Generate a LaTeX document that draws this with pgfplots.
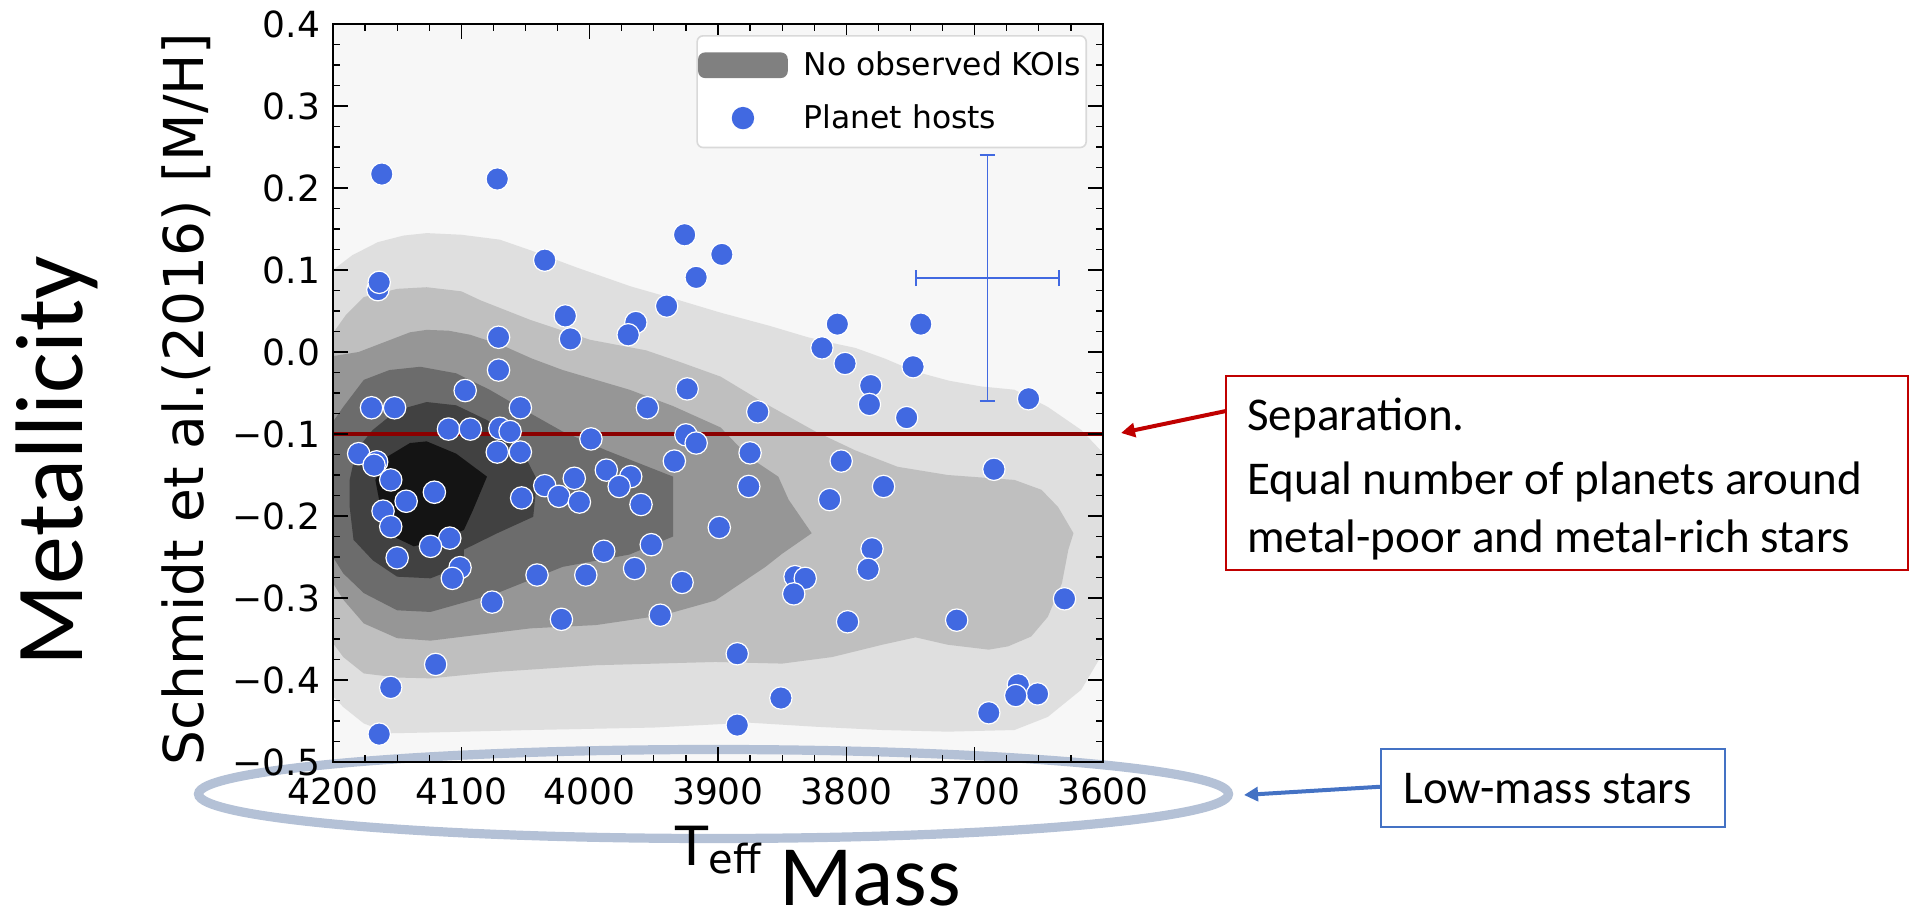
\documentclass[border=0pt]{standalone}
\usepackage{pgfplots}
\usepackage{pgfplotstable}
\pgfplotsset{compat=1.18}
\usepackage{fontspec}
\setmainfont{DejaVu Sans}
\newfontfamily\calibri{Carlito}
\usetikzlibrary{arrows.meta}
\definecolor{royal}{HTML}{4169E1}
\definecolor{darkred}{HTML}{8B0000}
\definecolor{boxred}{HTML}{C00000}
\definecolor{boxblue}{HTML}{4472C4}
\definecolor{ellcol}{HTML}{B4C1D6}
\definecolor{bg}{HTML}{F7F7F7}
\definecolor{lvA}{HTML}{DFDFDF}
\definecolor{lvB}{HTML}{BFBFBF}
\definecolor{lvC}{HTML}{969696}
\definecolor{lvD}{HTML}{6C6C6C}
\definecolor{lvE}{HTML}{414141}
\definecolor{lvF}{HTML}{141414}
\definecolor{kgray}{HTML}{808080}

\pgfplotstableread{
T M
4162 0.217
4072 0.211
4035 0.112
3926 0.143
3897 0.119
3917 0.091
4165 0.076
4164 0.085
4019 0.044
3940 0.056
3964 0.036
3970 0.021
4071 0.018
4015 0.016
3807 0.034
3742 0.034
3819 0.005
3801 -0.014
3748 -0.018
3781 -0.041
3782 -0.064
3753 -0.080
3658 -0.057
3869 -0.073
4071 -0.022
4097 -0.047
3924 -0.045
4170 -0.068
4152 -0.068
4054 -0.068
3955 -0.068
4110 -0.094
4093 -0.094
4070 -0.093
4062 -0.097
3999 -0.106
3925 -0.101
3917 -0.111
4180 -0.124
4166 -0.134
4168 -0.138
4072 -0.122
4054 -0.122
3934 -0.133
4155 -0.156
3987 -0.144
3968 -0.152
4012 -0.154
3977 -0.164
4035 -0.163
4121 -0.171
4143 -0.182
4024 -0.176
4008 -0.183
3960 -0.186
4053 -0.178
4161 -0.194
4155 -0.213
3899 -0.214
4109 -0.227
4124 -0.237
3952 -0.235
3989 -0.243
4150 -0.251
4101 -0.263
4107 -0.276
3965 -0.264
4041 -0.272
4003 -0.272
3928 -0.281
4076 -0.305
4022 -0.326
3945 -0.321
4120 -0.381
4155 -0.409
4164 -0.466
3780 -0.240
3783 -0.265
3840 -0.274
3832 -0.276
3841 -0.295
3799 -0.329
3714 -0.327
3630 -0.301
3885 -0.368
3851 -0.422
3885 -0.455
3666 -0.406
3651 -0.417
3668 -0.419
3689 -0.440
3875 -0.123
3804 -0.133
3685 -0.143
3876 -0.164
3771 -0.164
3813 -0.180
}\hosts

\begin{document}
\begin{tikzpicture}[x=0.5pt,y=0.5pt]
\useasboundingbox (0,0) rectangle (1914,919);
\fill[bg] (333,157) rectangle (1103,895);
\draw[ellcol, line width=4.6pt] (713.5,125) ellipse [x radius=257.5pt, y radius=22.25pt];
\begin{axis}[
  at={(166.5pt,78.5pt)}, anchor=south west,
  scale only axis, width=385pt, height=369pt,
  xmin=3600, xmax=4200, ymin=-0.5, ymax=0.4,
  x dir=reverse,
  axis on top,
  xtick={3600,3700,3800,3900,4000,4100,4200},
  xticklabels={3600,3700,3800,3900,4000,4100,4200},
  ytick={-0.5,-0.4,-0.3,-0.2,-0.1,0,0.1,0.2,0.3,0.4},
  yticklabels={−0.5,−0.4,−0.3,−0.2,−0.1,0.0,0.1,0.2,0.3,0.4},
  minor x tick num=3, minor y tick num=3,
  tick align=inside,
  major tick length=7.5pt, minor tick length=3.7pt,
  every tick/.style={black, line width=0.6pt},
  axis line style={black, line width=1pt},
  tick label style={font=\fontsize{18}{21}\selectfont},
  yticklabel style={xshift=-3pt},
  xticklabel style={yshift=-4.5pt},
  every axis y label/.style={at={(axis description cs:-0.1688,0.4919)}, rotate=90, anchor=base, inner sep=0pt, font=\fontsize{27.5}{32}\selectfont},
  every axis x label/.style={at={(axis description cs:0.5,-0.1396)}, anchor=base, inner sep=0pt, font=\fontsize{27}{32}\selectfont},
  ylabel={Schmidt et al.(2016) [M/H]},
  xlabel={T\raisebox{-4pt}{\fontsize{20}{22}\selectfont eff}},
  legend style={at={(axis description cs:1,1)}, anchor=north east, xshift=-8pt, yshift=-5.5pt,
    draw=black!15, line width=0.8pt, fill=white, rounded corners=3pt,
    font=\fontsize{15.7}{19}\selectfont, inner xsep=0.5pt, inner ysep=6pt, row sep=9pt,
    /tikz/every odd column/.append style={column sep=6pt}},
  legend cell align=left,
]
% filled density contours
\addplot[fill=lvA, draw=none, forget plot] coordinates {
(4210,0.100) (4200,0.100) (4185,0.118) (4165,0.134) (4145,0.142) (4127,0.145) (4100,0.143) (4070,0.137) (4046,0.124) (4010,0.103) (3968,0.080) (3930,0.063) (3898,0.048) (3860,0.032) (3830,0.018) (3811,0.011) (3793,0.005) (3770,-0.008) (3746,-0.024) (3720,-0.035) (3695,-0.042) (3669,-0.046) (3643,-0.067) (3617,-0.095) (3600,-0.123) (3590,-0.123) (3590,-0.367) (3600,-0.367) (3617,-0.412) (3643,-0.445) (3669,-0.461) (3721,-0.463) (3772,-0.461) (3824,-0.457) (3876,-0.452) (3950,-0.458) (4046,-0.461) (4124,-0.464) (4156,-0.465) (4176,-0.453) (4192,-0.433) (4200,-0.420) (4210,-0.420)
} -- cycle;
\addplot[fill=lvB, draw=none, forget plot] coordinates {
(4210,0.023) (4200,0.023) (4190,0.045) (4176,0.067) (4150,0.077) (4127,0.079) (4100,0.074) (4085,0.063) (4046,0.039) (4000,0.015) (3956,0.002) (3930,-0.012) (3898,-0.030) (3863,-0.063) (3824,-0.097) (3793,-0.120) (3760,-0.140) (3721,-0.150) (3669,-0.156) (3648,-0.168) (3635,-0.189) (3623,-0.221) (3627,-0.241) (3632,-0.282) (3643,-0.323) (3656,-0.347) (3674,-0.359) (3689,-0.363) (3721,-0.357) (3746,-0.348) (3772,-0.357) (3811,-0.372) (3850,-0.380) (3902,-0.378) (3995,-0.382) (4072,-0.390) (4124,-0.398) (4150,-0.397) (4176,-0.392) (4192,-0.372) (4200,-0.355) (4210,-0.355)
} -- cycle;
\addplot[fill=lvC, draw=none, forget plot] coordinates {
(4210,-0.005) (4200,-0.005) (4180,0.000) (4160,0.012) (4140,0.024) (4127,0.027) (4110,0.026) (4093,0.021) (4068,0.008) (4045,-0.008) (4021,-0.022) (3995,-0.034) (3969,-0.046) (3935,-0.066) (3898,-0.092) (3876,-0.128) (3853,-0.152) (3845,-0.180) (3827,-0.221) (3850,-0.246) (3863,-0.262) (3902,-0.303) (3943,-0.321) (3995,-0.333) (4046,-0.337) (4098,-0.347) (4124,-0.352) (4150,-0.349) (4176,-0.331) (4192,-0.302) (4200,-0.282) (4210,-0.282)
} -- cycle;
\addplot[fill=lvD, draw=none, forget plot] coordinates {
(4210,-0.085) (4200,-0.085) (4192,-0.067) (4176,-0.034) (4156,-0.022) (4132,-0.018) (4104,-0.026) (4078,-0.046) (4046,-0.075) (4021,-0.097) (3987,-0.120) (3935,-0.152) (3935,-0.225) (3969,-0.247) (4021,-0.262) (4072,-0.294) (4124,-0.317) (4150,-0.315) (4176,-0.294) (4192,-0.270) (4200,-0.250) (4210,-0.250)
} -- cycle;
\addplot[fill=lvE, draw=none, forget plot] coordinates {
(4187,-0.156) (4182,-0.120) (4169,-0.095) (4150,-0.071) (4127,-0.061) (4104,-0.065) (4080,-0.083) (4057,-0.107) (4041,-0.156) (4044,-0.201) (4072,-0.221) (4098,-0.241) (4098,-0.260) (4124,-0.276) (4150,-0.274) (4169,-0.254) (4184,-0.229) (4187,-0.189)
} -- cycle;
\addplot[fill=lvF, draw=none, forget plot] coordinates {
(4167,-0.156) (4158,-0.128) (4140,-0.111) (4127,-0.109) (4104,-0.124) (4080,-0.152) (4091,-0.193) (4098,-0.217) (4117,-0.229) (4137,-0.237) (4153,-0.225) (4163,-0.189)
} -- cycle;
% typical error bar: centre (3690, 0.09), +-55.5 K, +-0.15 dex, with caps
\addplot[royal, line width=0.85pt, forget plot] coordinates {(3690,-0.06) (3690,0.24)};
\addplot[royal, line width=0.85pt, forget plot] coordinates {(3745.5,0.09) (3634.5,0.09)};
\addplot[royal, line width=0.85pt, forget plot] coordinates {(3696.2,0.24) (3683.8,0.24)};
\addplot[royal, line width=0.85pt, forget plot] coordinates {(3696.2,-0.06) (3683.8,-0.06)};
\addplot[royal, line width=0.85pt, forget plot] coordinates {(3745.5,0.0802) (3745.5,0.0998)};
\addplot[royal, line width=0.85pt, forget plot] coordinates {(3634.5,0.0802) (3634.5,0.0998)};
% legend proxy for the contours
\addlegendimage{legend image code/.code={\fill[kgray] (0pt,-6pt) rectangle (44pt,6pt);}}
\addlegendentry{No observed KOIs}
% planet hosts
\addplot[only marks, mark=*, mark size=5.6pt,
  mark options={fill=royal, draw=white, line width=0.6pt},
  legend image code/.code={\path[draw=none,fill=none] (0pt,-6pt) rectangle (44pt,6pt); \fill[royal, draw=none] (22pt,0pt) circle (5.6pt);}]
  table[x=T, y=M] {\hosts};
\addlegendentry{Planet hosts}
% separation line
\addplot[darkred, line width=2.35pt, forget plot] coordinates {(4200,-0.1) (3600,-0.1)};
\end{axis}
% annotations
\node[rotate=90, anchor=base, inner sep=0pt, font=\calibri\fontsize{48}{56}\selectfont] at (82,458) {Metallicity};
\node[anchor=base, inner sep=0pt, font=\calibri\fontsize{43}{50}\selectfont] at (870,13) {Mass};
\draw[boxred, line width=0.9pt] (1226,349) rectangle (1908,543.3);
\node[anchor=base west, inner sep=0pt, font=\calibri\fontsize{23.5}{28}\selectfont] at (1247,488.3) {Separation.};
\node[anchor=base west, inner sep=0pt, font=\calibri\fontsize{23.5}{28}\selectfont] at (1247,424) {Equal number of planets around};
\node[anchor=base west, inner sep=0pt, font=\calibri\fontsize{23.5}{28}\selectfont] at (1247,366) {metal-poor and metal-rich stars};
\draw[boxred, line width=2pt, -{Triangle[length=7pt,width=7pt]}] (1226,508) -- (1121,486);
\draw[boxblue, line width=0.9pt] (1381,91.7) rectangle (1724.6,169.7);
\node[anchor=base west, inner sep=0pt, font=\calibri\fontsize{23.5}{28}\selectfont] at (1403,115) {Low-mass stars};
\draw[boxblue, line width=2pt, -{Triangle[length=7pt,width=7pt]}] (1381,132.3) -- (1244,124);
\end{tikzpicture}
\end{document}
